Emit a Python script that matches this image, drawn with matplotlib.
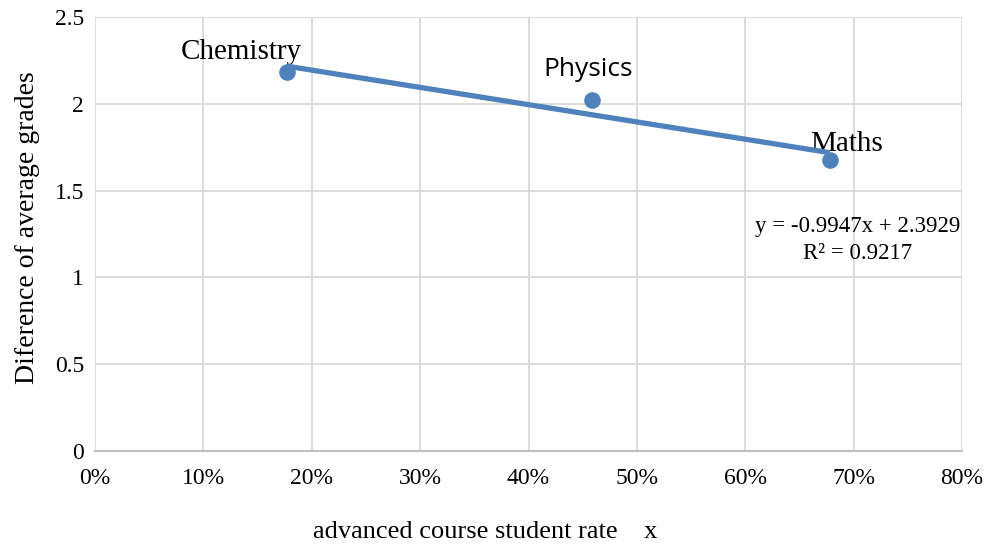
import matplotlib
matplotlib.use("Agg")
import matplotlib.pyplot as plt
import numpy as np
from matplotlib.ticker import PercentFormatter

subjects = ["Chemistry", "Physics", "Maths"]
rate = [0.177, 0.459, 0.678]
grade_diff = [2.183, 2.022, 1.676]
slope = -0.9947
intercept = 2.3929
r2 = 0.9217

serif = "Liberation Serif"
blue = "#4F81BD"

fig = plt.figure(figsize=(9.84, 5.44), dpi=100)
ax = fig.add_axes([95/984, 1-451/544, 867/984, 434/544])

ax.set_xlim(0, 0.8)
ax.set_ylim(0, 2.5)
ax.set_xticks(np.arange(0, 0.81, 0.1))
ax.set_yticks([0, 0.5, 1, 1.5, 2, 2.5])
ax.set_yticklabels(["0", "0.5", "1", "1.5", "2", "2.5"])
ax.xaxis.set_major_formatter(PercentFormatter(1.0, decimals=0))
ax.grid(True, color="#d9d9d9", linewidth=1.3)
ax.set_axisbelow(True)
for s in ["top", "right", "left"]:
    ax.spines[s].set_visible(False)
ax.spines["bottom"].set_color("#bfbfbf")
ax.spines["bottom"].set_linewidth(1.5)
ax.tick_params(length=0, labelsize=17)
ax.tick_params(axis="x", pad=12)
ax.tick_params(axis="y", pad=8)
for lab in ax.get_xticklabels() + ax.get_yticklabels():
    lab.set_fontfamily(serif)

ax.scatter(rate, grade_diff, s=120, color=blue, zorder=3)
xs = np.array([min(rate), max(rate)])
ax.plot(xs, slope*xs + intercept, color=blue, linewidth=3.8, zorder=4, solid_capstyle="butt")

ax.annotate("Chemistry", (rate[0], grade_diff[0]), xytext=(-46, 20), textcoords="offset pixels",
            ha="center", va="center", fontsize=21, fontfamily=serif)
ax.annotate("Physics", (rate[1], grade_diff[1]), xytext=(-4, 30), textcoords="offset pixels",
            ha="center", va="center", fontsize=19, fontfamily="Open Sans")
ax.annotate("Maths", (rate[2], grade_diff[2]), xytext=(17, 16), textcoords="offset pixels",
            ha="center", va="center", fontsize=21, fontfamily=serif)

ax.text(0.704, 1.215, f"y = {slope}x + {intercept}\nR\u00b2 = {r2}", ha="center", va="center",
        fontsize=16.5, fontfamily=serif, linespacing=1.35)

fig.text(485/984, 1-532/544, "advanced course student rate    x", ha="center", va="center",
         fontsize=19, fontfamily=serif)
fig.text(28/984, 1-228/544, "Diference of average grades", ha="center", va="center",
         rotation=90, fontsize=20, fontfamily=serif)

fig.savefig("out.png", dpi=100)
